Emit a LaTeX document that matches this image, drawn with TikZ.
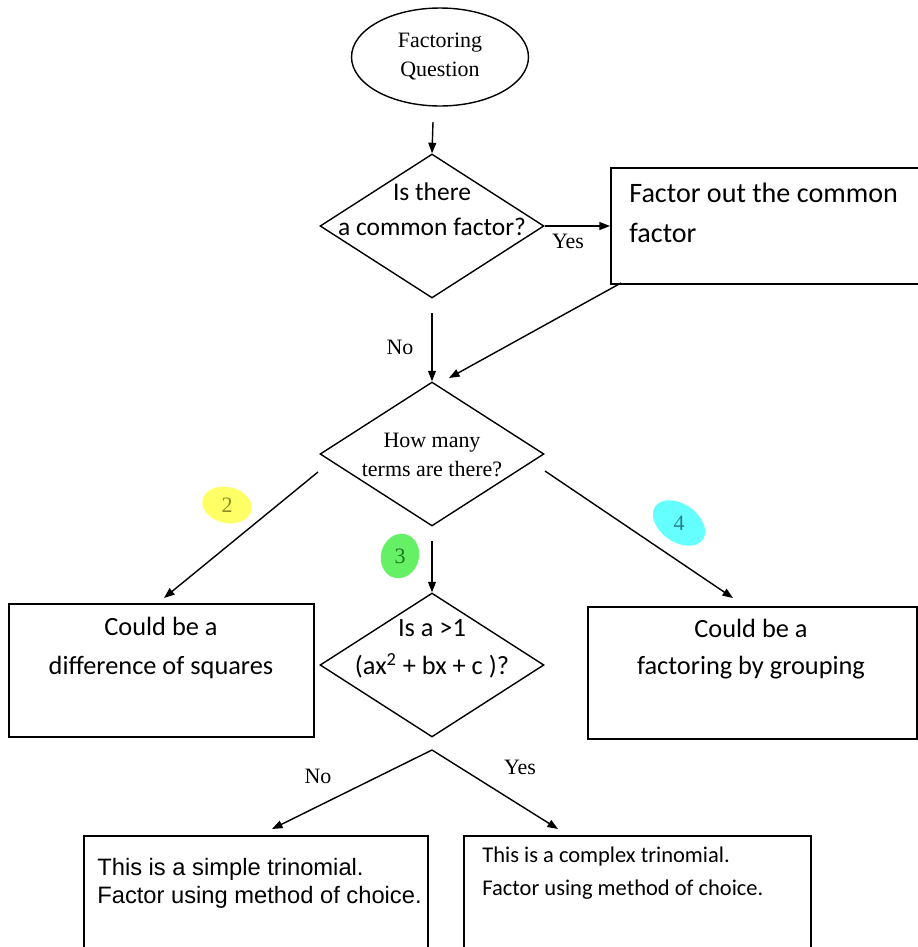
\documentclass[tikz,border=0pt]{standalone}
\usepackage{fontspec}
\setmainfont{Liberation Serif}
\newfontfamily\calibri{Carlito}
\newfontfamily\arial{Liberation Sans}
\usepackage{tikz}
\usetikzlibrary{shapes.geometric,arrows.meta}

\definecolor{hlyellow}{RGB}{255,255,102}
\definecolor{hlgreen}{RGB}{102,240,102}
\definecolor{hlcyan}{RGB}{102,255,255}
\definecolor{numyellow}{RGB}{140,140,40}
\definecolor{numgreen}{RGB}{30,120,30}
\definecolor{numcyan}{RGB}{40,130,140}

\begin{document}
\begin{tikzpicture}[x = 0.02cm, y = -0.02cm,
	decision/.style = {draw, diamond, minimum width = 4.48cm, minimum height = 2.88cm, inner sep = 0pt, line width = 0.8pt},
	stepbox/.style = {draw, rectangle, anchor = north west, inner sep = 0pt, line width = 1.1pt},
	flow/.style = {-{Triangle[length = 6pt, width = 4.5pt]}, line width = 0.8pt},
	serif/.style = {font = \fontsize{12.5}{16.5}\selectfont, align = center},
	cal/.style n args = {2}{font = \calibri\fontsize{#1}{#2}\selectfont},
	blob/.style = {ellipse, inner sep = 0pt}]

	\useasboundingbox (0, 0) rectangle (918, 947);
	\clip (0, 0) rectangle (918, 947);

	\node[draw, ellipse, minimum width = 3.54cm, minimum height = 1.96cm, line width = 0.8pt, serif] (start) at (440, 57) {Factoring\\Question};

	\node[decision] (q1) at (432, 226) {};
	\node[cal = {14.5}{20}, align = center] (q1t) at (432, 209) {Is there\\a common factor?};

	\node[stepbox, minimum width = 6.6cm, minimum height = 2.32cm] (box1) at (610, 167) {};
	\node[cal = {16}{23}, align = left, anchor = west, inner sep = 0pt] (box1t) at (629, 213) {Factor out the common\\factor};

	\node[decision] (q2) at (432, 454) {};
	\node[serif] (q2t) at (432, 455) {How many\\terms are there?};

	\node[decision] (q3) at (432, 665) {};
	\node[cal = {15}{21.5}, align = center] (q3t) at (432, 649) {Is a >1\\(ax\textsuperscript{2} + bx + c )?};

	\node[stepbox, minimum width = 6.1cm, minimum height = 2.66cm] (boxL) at (8, 603) {};
	\node[cal = {15}{22.5}, align = center] (boxLt) at (161, 648) {Could be a\\difference of squares};

	\node[stepbox, minimum width = 6.58cm, minimum height = 2.64cm] (boxR) at (587, 606) {};
	\node[cal = {15}{21}, align = center] (boxRt) at (751, 649) {Could be a\\factoring by grouping};

	\node[stepbox, minimum width = 6.88cm, minimum height = 4cm] (boxS) at (83, 835) {};
	\node[font = \arial\fontsize{13.5}{15.9}\selectfont, align = left, anchor = west, inner sep = 0pt] (boxSt) at (97, 883) {This is a simple trinomial.\\Factor using method of choice.};

	\node[stepbox, minimum width = 6.94cm, minimum height = 4cm] (boxC) at (463, 835) {};
	\node[cal = {12.8}{18.7}, align = left, anchor = west, inner sep = 0pt] (boxCt) at (482, 873) {This is a complex trinomial.\\Factor using method of choice.};

	\node[blob, fill = hlyellow, minimum width = 1cm, minimum height = 0.72cm, rotate = -12] (h2) at (227, 505) {};
	\node[serif, text = numyellow] (t2) at (h2) {2};
	\node[blob, fill = hlgreen, minimum width = 0.76cm, minimum height = 0.9cm, rotate = -15] (h3) at (400, 556) {};
	\node[serif, text = numgreen] (t3) at (h3) {3};
	\node[blob, fill = hlcyan, minimum width = 1.16cm, minimum height = 0.76cm, rotate = -35] (h4) at (679, 523) {};
	\node[serif, text = numcyan] (t4) at (h4) {4};

	\coordinate (a1) at (433, 122);
	\coordinate (a2) at (432, 313);
	\coordinate (a3) at (432, 541);
	\coordinate (b1) at (621, 283);
	\coordinate (e1) at (449, 378);
	\coordinate (l2) at (318, 472);
	\coordinate (e2) at (164, 598);
	\coordinate (r2) at (545, 471);
	\coordinate (e4) at (733, 598);
	\coordinate (apex) at (432, 750);
	\coordinate (e5) at (272, 829);
	\coordinate (e6) at (558, 829);

	\draw[flow] (a1) -- (q1.north);
	\draw[flow] (q1.east) -- (q1.east -| box1.west);
	\node[serif] (yes1) at (568, 241) {Yes};
	\draw[flow] (a2) -- (q2.north);
	\node[serif] (no1) at (400, 347) {No};
	\draw[flow] (b1) -- (e1);

	\draw[flow] (l2) -- (e2);
	\draw[flow] (r2) -- (e4);
	\draw[flow] (a3) -- (q3.north);

	\draw[flow] (apex) -- (e5);
	\draw[flow] (apex) -- (e6);
	\node[serif] (no2) at (318, 776) {No};
	\node[serif] (yes2) at (520, 767) {Yes};

\end{tikzpicture}
\end{document}
